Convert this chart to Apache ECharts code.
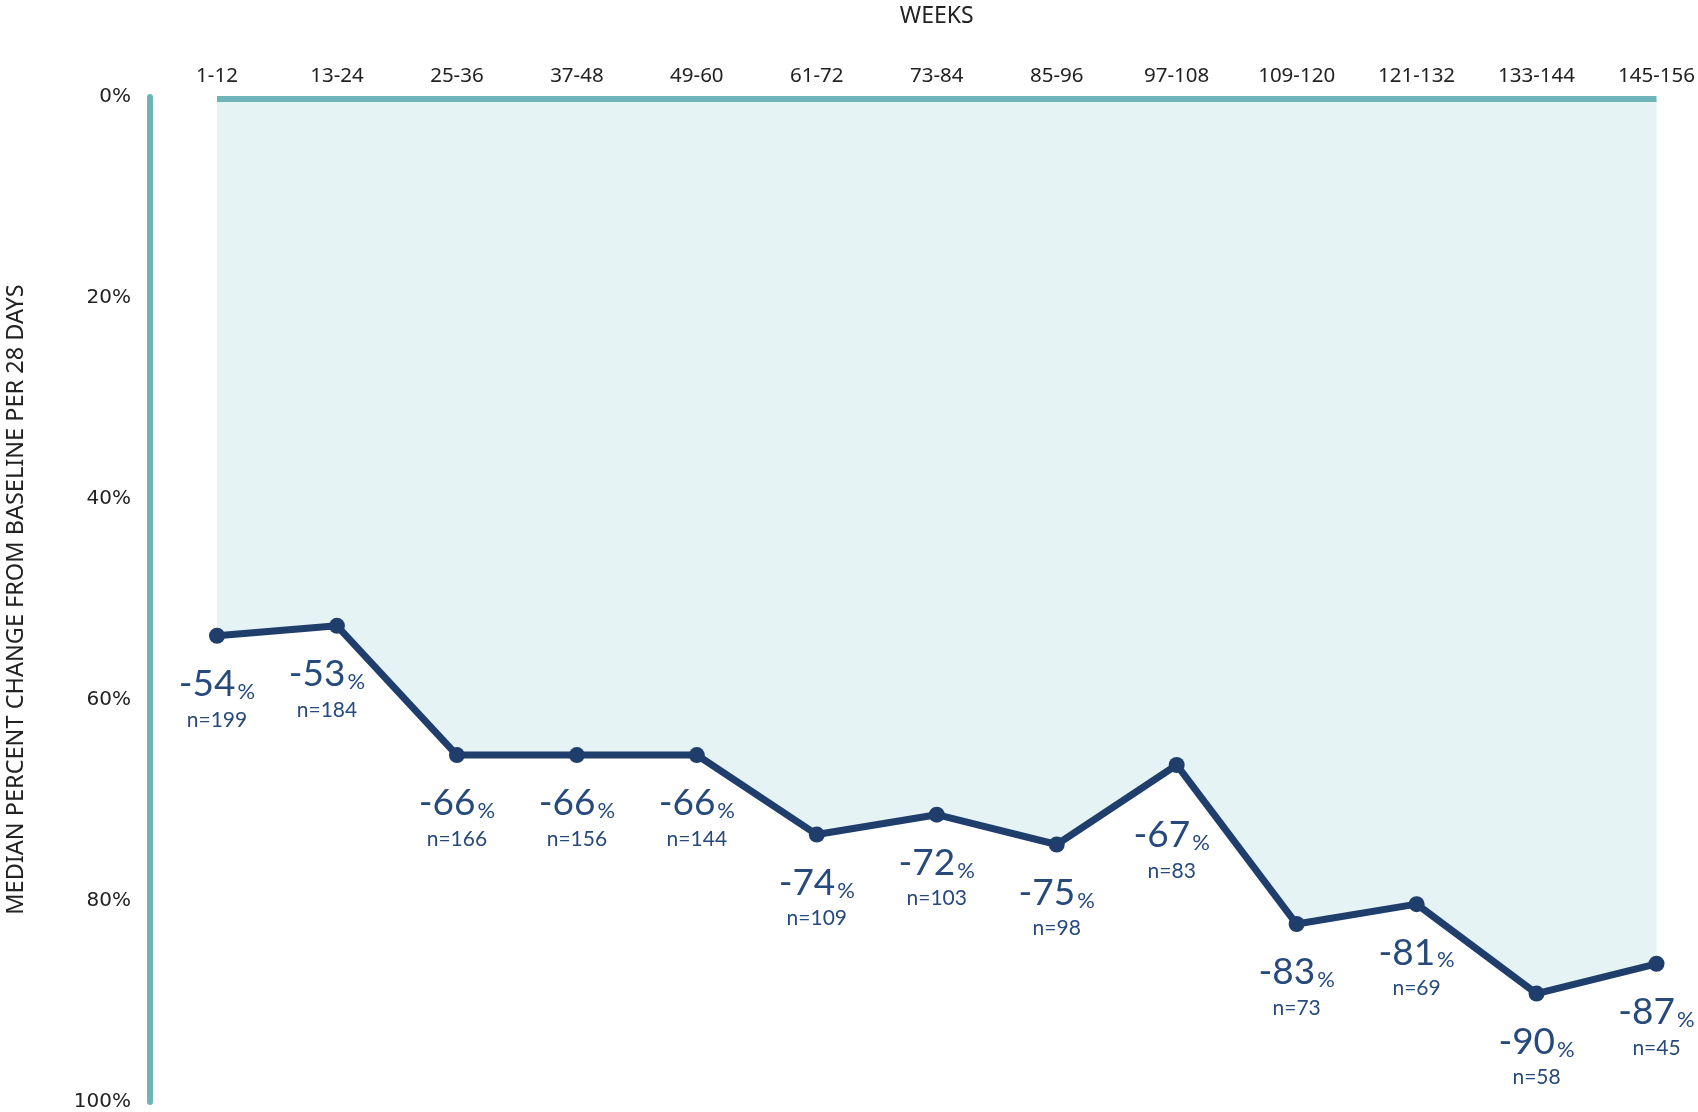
<!DOCTYPE html>
<html><head><meta charset="utf-8">
<script src="https://cdn.jsdelivr.net/npm/echarts@6/dist/echarts.min.js"></script>
<style>html,body{margin:0;padding:0;background:#fff}#c{width:1698px;height:1112px}</style>
</head><body><div id="c"></div>
<script>
const categories = ['1-12','13-24','25-36','37-48','49-60','61-72','73-84','85-96','97-108','109-120','121-132','133-144','145-156'];
const medianChange = [-54,-53,-66,-66,-66,-74,-72,-75,-67,-83,-81,-90,-87];
const nCounts = [199,184,166,156,144,109,103,98,83,73,69,58,45];
const baselineValue = 0;

const navy = '#1f3e6c';
const teal = '#6fb4b9';
// label nudges to keep labels clear of the line (layout only)
const labelNudge = {1:[-10,0], 8:[-5,22]};
const seriesData = medianChange.map((v,i)=> labelNudge[i] ? {value:v, label:{offset:labelNudge[i]}} : v);

const chart = echarts.init(document.getElementById('c'));
chart.setOption({
  animation:false,
  grid:[
    {left:217, right:41, top:93, height:1000},
    {left:150, width:10, top:97, height:1005}
  ],
  xAxis:[
    {type:'category', data:categories, gridIndex:0, position:'top', boundaryGap:false,
     axisLine:{show:false, onZero:false},
     axisTick:{show:false},
     axisLabel:{color:'#222', fontFamily:'Noto Sans', fontSize:20.5, margin:12},
     name:'WEEKS', nameLocation:'middle', nameGap:71,
     nameTextStyle:{color:'#222', fontFamily:'Noto Sans', fontSize:23}},
    {type:'value', gridIndex:1, show:false, min:0, max:1}
  ],
  yAxis:[
    {type:'value', gridIndex:0, min:-100, max:0, interval:20, show:false},
    {type:'value', gridIndex:1, min:-100, max:0, interval:20,
     axisLine:{show:true, lineStyle:{color:teal, width:6}},
     axisTick:{show:false}, splitLine:{show:false},
     axisLabel:{color:'#222', fontFamily:'DejaVu Sans', fontSize:20, margin:19,
       formatter:v=>Math.abs(v)+'%'},
     name:'MEDIAN PERCENT CHANGE FROM BASELINE PER 28 DAYS', nameLocation:'middle', nameGap:122, nameRotate:90,
     nameTextStyle:{color:'#222', fontFamily:'Noto Sans', fontSize:23.5}}
  ],
  series:[{
    type:'line', xAxisIndex:0, yAxisIndex:0,
    data:seriesData,
    symbol:'circle', symbolSize:16,
    itemStyle:{color:navy},
    lineStyle:{color:navy, width:7},
    areaStyle:{color:'#e6f3f5', opacity:1},
    markLine:{silent:true, symbol:['none','none'], label:{show:false}, z:5,
      lineStyle:{color:teal, width:6, type:'solid'},
      data:[{yAxis:baselineValue}]},
    label:{show:true, position:'bottom', distance:23,
      formatter:p=>'{v|'+p.value+'}{p|%}\n{n|n='+nCounts[p.dataIndex]+'}',
      rich:{
        v:{fontFamily:'Lato', fontSize:37, color:'#264a7c', lineHeight:36, verticalAlign:'bottom'},
        p:{fontFamily:'Lato', fontSize:22, color:'#264a7c', lineHeight:36, verticalAlign:'bottom', padding:[0,0,0,2]},
        n:{fontFamily:'Lato', fontSize:21, color:'#264a7c', lineHeight:34, align:'center'}
      }}
  }]
});
</script></body></html>
